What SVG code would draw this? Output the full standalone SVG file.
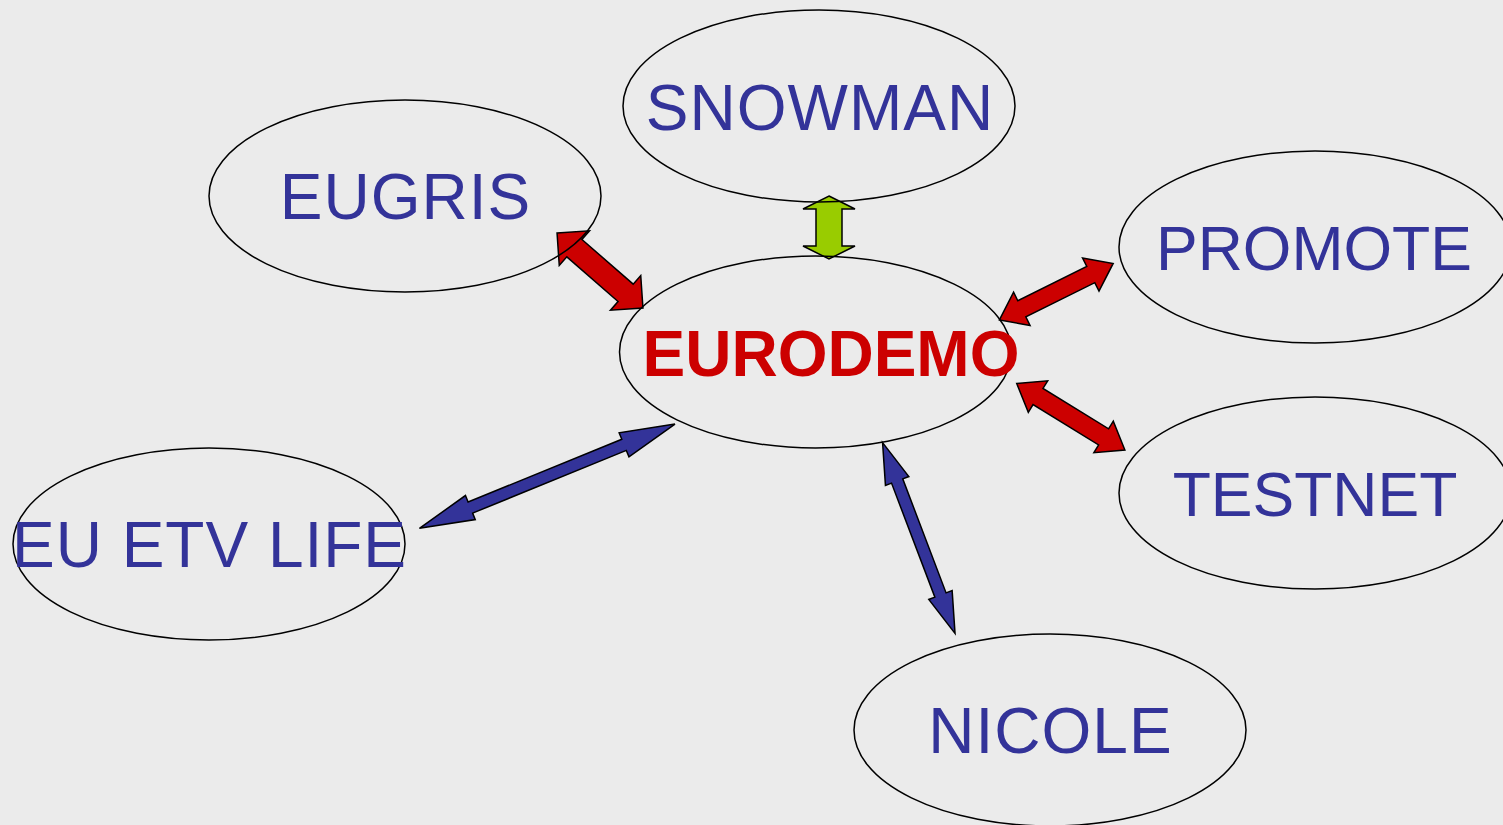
<svg xmlns="http://www.w3.org/2000/svg" width="1503" height="825" viewBox="0 0 1503 825">
<style>
.node ellipse{fill:none;stroke:#000;stroke-width:1.5}
.lbl{font-family:"Liberation Sans",Arial,sans-serif;font-size:64px;fill:#333399;text-anchor:middle;letter-spacing:1px}
.main{font-weight:bold;fill:#CC0000;letter-spacing:0}
.tight{letter-spacing:0;font-size:62.5px}
.arr{stroke:#000;stroke-width:1.5;stroke-linejoin:miter}
.red{fill:#CC0000}.blue{fill:#333399}.green{fill:#99CC00}
</style>
<rect width="1503" height="825" fill="#EBEBEB"/>
<g id="connectors">
<polygon class="arr green" transform="translate(829,227.5) rotate(90)" points="-31.5,0 -18.5,-26 -18.5,-13 18.5,-13 18.5,-26 31.5,0 18.5,26 18.5,13 -18.5,13 -18.5,26"/>
<polygon class="arr red" transform="translate(600,270.5) rotate(41.1)" points="-57,0 -34,-23 -34,-11.5 34,-11.5 34,-23 57,0 34,23 34,11.5 -34,11.5 -34,23"/>
<polygon class="arr red" transform="translate(1056.3,291.7) rotate(-26.4)" points="-63.5,0 -38.5,-18.5 -38.5,-9 38.5,-9 38.5,-18.5 63.5,0 38.5,18.5 38.5,9 -38.5,9 -38.5,18.5"/>
<polygon class="arr red" transform="translate(1070.8,416.7) rotate(31.6)" points="-63.5,0 -38.5,-18.5 -38.5,-9.5 38.5,-9.5 38.5,-18.5 63.5,0 38.5,18.5 38.5,9.5 -38.5,9.5 -38.5,18.5"/>
<polygon class="arr blue" transform="translate(547.2,476.2) rotate(-22.2)" points="-138,0 -83,-13 -83,-6 83,-6 83,-13 138,0 83,13 83,6 -83,6 -83,13"/>
<polygon class="arr blue" transform="translate(918.8,538) rotate(69.2)" points="-102,0 -61,-12.5 -61,-6 61,-6 61,-12.5 102,0 61,12.5 61,6 -61,6 -61,12.5"/>
</g>
<g id="snowman" class="node"><ellipse cx="819" cy="106" rx="196" ry="96"/><text class="lbl" x="820" y="130">SNOWMAN</text></g>
<g id="eugris" class="node"><ellipse cx="405" cy="196" rx="196" ry="96"/><text class="lbl" x="405.5" y="219">EUGRIS</text></g>
<g id="promote" class="node"><ellipse cx="1315" cy="247" rx="196" ry="96"/><text class="lbl tight" x="1314" y="270">PROMOTE</text></g>
<g id="eurodemo" class="node"><ellipse cx="815.5" cy="352" rx="196" ry="96"/><text class="lbl main" x="831" y="376">EURODEMO</text></g>
<g id="testnet" class="node"><ellipse cx="1315" cy="493" rx="196" ry="96"/><text class="lbl tight" x="1315" y="516">TESTNET</text></g>
<g id="euetvlife" class="node"><ellipse cx="209" cy="544" rx="196" ry="96"/><text class="lbl" x="209.5" y="567">EU ETV LIFE</text></g>
<g id="nicole" class="node"><ellipse cx="1050" cy="730" rx="196" ry="96"/><text class="lbl" x="1050.5" y="753">NICOLE</text></g>
</svg>
